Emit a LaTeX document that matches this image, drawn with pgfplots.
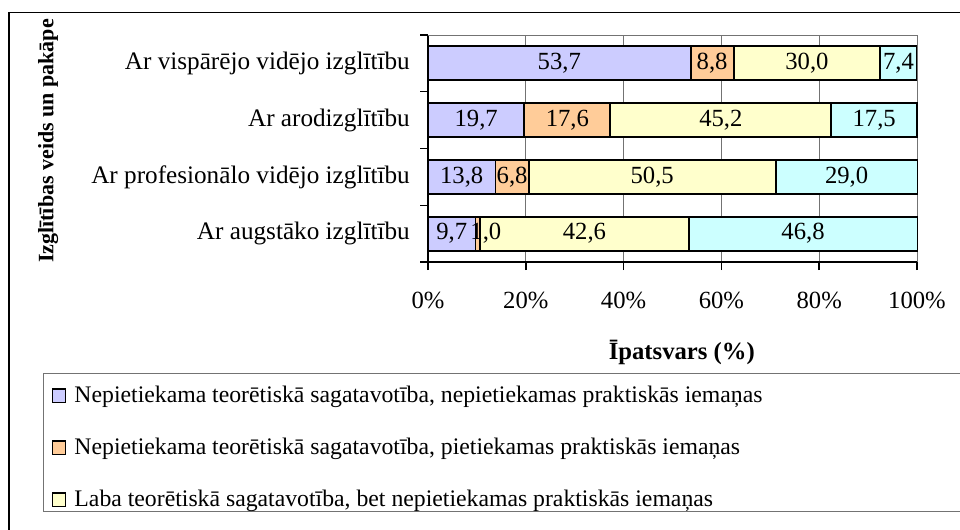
\documentclass[border=0pt]{standalone}
\usepackage{pgfplots}
\pgfplotsset{compat=1.18}
\usepackage{pgfplotstable}
\usepackage{fontspec}
\setmainfont{Liberation Serif}
\pgfkeys{/pgf/number format/assume math mode=true}

\pgfplotstableread{
y  s1   s2   s3   s4
0  9.7  1.0  42.6 46.8
1  13.8 6.8  50.5 29.0
2  19.7 17.6 45.2 17.5
3  53.7 8.8  30.0 7.4
}\datatab

\definecolor{cA}{HTML}{CCCCFF}
\definecolor{cB}{HTML}{FFCC99}
\definecolor{cC}{HTML}{FFFFCC}
\definecolor{cD}{HTML}{CCFFFF}

\begin{document}
\begin{tikzpicture}
\useasboundingbox (0pt,0pt) rectangle (720pt,-396.75pt);
\clip (0pt,0pt) rectangle (720pt,-396.75pt);
\fill[white] (0pt,0pt) rectangle (720pt,-396.75pt);
\draw[line width=1.1pt] (6.75pt,-9.4pt) rectangle (900pt,-600pt);
\begin{axis}[
  at={(321pt,-196.5pt)}, anchor=south west,
  scale only axis, width=366.75pt, height=170.25pt,
  xbar stacked, bar width=0.6, clip=false,
  xmin=0, xmax=100, ymin=-0.5, ymax=3.5,
  axis x line*=bottom, axis y line*=left,
  axis line style={line width=1.1pt, black, -},
  major tick length=0pt, minor tick length=6pt,
  tick align=outside,
  tick style={black, line width=1.1pt},
  xtick={0,20,...,100},
  minor xtick={0,20,...,100},
  xticklabel={\pgfmathprintnumber{\tick}\%},
  xticklabel style={anchor=center, yshift=-28.5pt, font=\fontsize{18.5}{20}\selectfont},
  xmajorgrids, grid style={black!55, line width=0.7pt},
  ytick={0,1,2,3},
  minor ytick={-0.5,0.5,1.5,2.5,3.5},
  yticklabels={Ar augstāko izglītību, Ar profesionālo vidējo izglītību, Ar arodizglītību, Ar vispārējo vidējo izglītību},
  yticklabel style={anchor=east, inner sep=0pt, xshift=-13.5pt, font=\fontsize{18.9}{20}\selectfont},
  xlabel={Īpatsvars (\%)},
  xlabel style={at={(axis description cs:0.519,-0.40)}, anchor=center, font=\bfseries\fontsize{18.5}{20}\selectfont},
  ylabel={Izglītības veids un pakāpe},
  ylabel style={at={(axis description cs:-0.777,0.533)}, anchor=center, font=\bfseries\fontsize{16.5}{18}\selectfont},
  point meta=explicit,
  nodes near coords={\pgfmathprintnumber[fixed,fixed zerofill,precision=1,use comma]{\pgfplotspointmeta}},
  visualization depends on={ifthenelse(rawx<2,6,0) \as \nudge},
  every node near coord/.append style={anchor=center, inner sep=0pt, font=\fontsize{18.5}{20}\selectfont, xshift=\nudge pt},
  legend style={at={(axis description cs:-0.787,-0.489)}, anchor=north west, draw=black!55, line width=0.8pt,
    font=\fontsize{17.8}{20}\selectfont, row sep=17.5pt, inner xsep=6pt, inner ysep=2pt,
    nodes={inner sep=0pt, text height=19.75pt, text depth=1.75pt}},
  legend cell align=left,
  legend image code/.code={\draw[#1, draw=black, line width=1.1pt] (0pt,-9pt) rectangle (10pt,1pt);},
]
\addplot[fill=cA, draw=black, line width=1.4pt] table[x=s1, y=y, meta=s1] {\datatab};
\addlegendentry{\makebox[680pt][l]{\hspace{6pt}Nepietiekama teorētiskā sagatavotība, nepietiekamas praktiskās iemaņas}}
\addplot[fill=cB, draw=black, line width=1.4pt] table[x=s2, y=y, meta=s2] {\datatab};
\addlegendentry{\makebox[680pt][l]{\hspace{6pt}Nepietiekama teorētiskā sagatavotība, pietiekamas praktiskās iemaņas}}
\addplot[fill=cC, draw=black, line width=1.4pt] table[x=s3, y=y, meta=s3] {\datatab};
\addlegendentry{\makebox[680pt][l]{\hspace{6pt}Laba teorētiskā sagatavotība, bet nepietiekamas praktiskās iemaņas}}
\addplot[fill=cD, draw=black, line width=1.4pt] table[x=s4, y=y, meta=s4] {\datatab};
\draw[black!55, line width=0.7pt] (axis cs:0,3.5) -- (axis cs:100,3.5);
\end{axis}
\end{tikzpicture}
\end{document}
